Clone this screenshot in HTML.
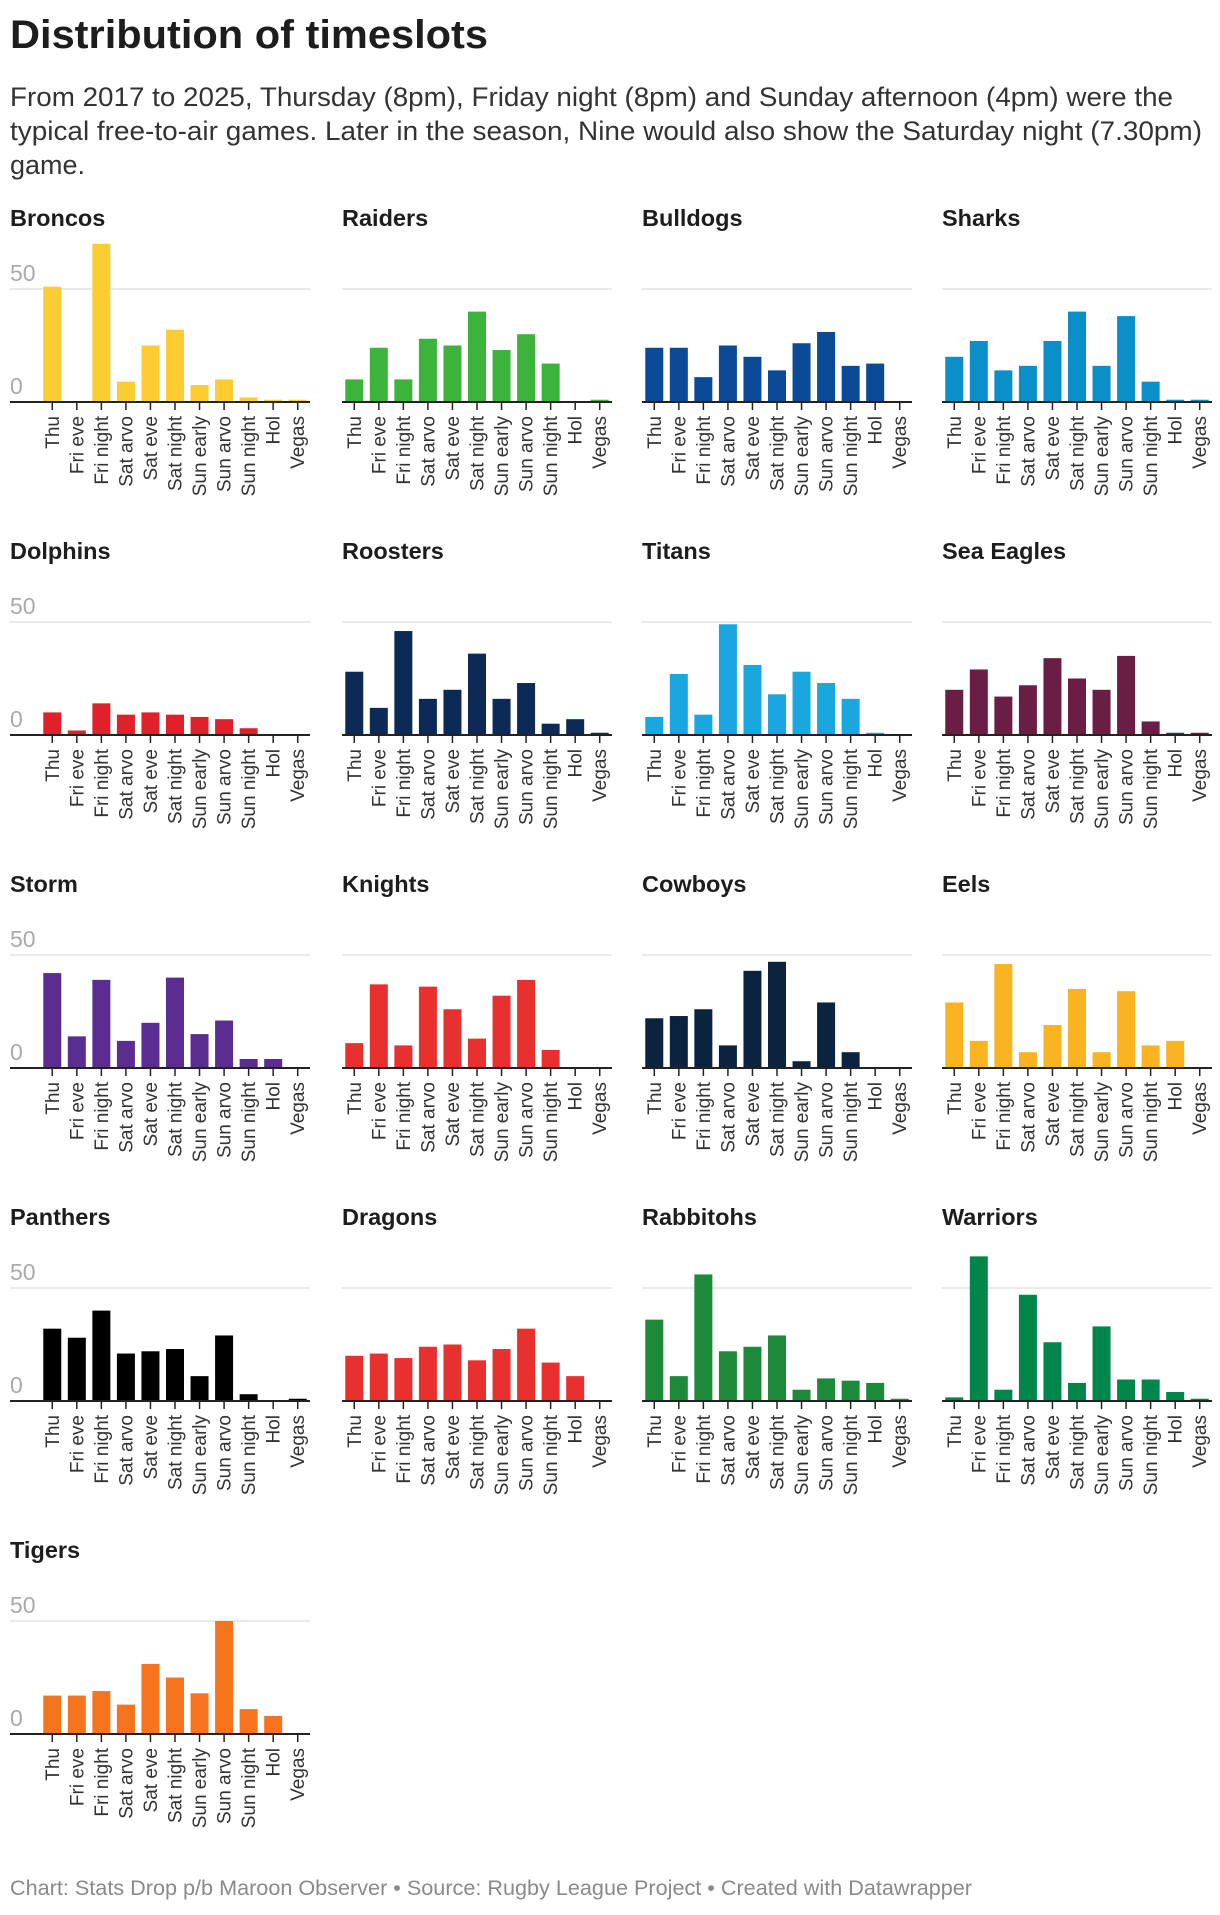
<!DOCTYPE html>
<html><head><meta charset="utf-8">
<style>
html,body{margin:0;padding:0;background:#fff;}
body{width:1220px;height:1910px;overflow:hidden;font-family:"Liberation Sans",Arial,sans-serif;}
text{font-family:"Liberation Sans",Arial,sans-serif;}
</style></head>
<body>
<svg id="chart" width="1220" height="1910" xmlns="http://www.w3.org/2000/svg">
<text x="10" y="48" font-size="40" font-weight="bold" fill="#1d1d1d" textLength="478" lengthAdjust="spacingAndGlyphs">Distribution of timeslots</text>
<text font-size="27" fill="#333">
<tspan x="10" y="106" textLength="1163" lengthAdjust="spacingAndGlyphs">From 2017 to 2025, Thursday (8pm), Friday night (8pm) and Sunday afternoon (4pm) were the</tspan>
<tspan x="10" y="140" textLength="1192" lengthAdjust="spacingAndGlyphs">typical free-to-air games. Later in the season, Nine would also show the Saturday night (7.30pm)</tspan>
<tspan x="10" y="174">game.</tspan>
</text>
<text x="10" y="1895" font-size="21" fill="#8a8a8a" textLength="962" lengthAdjust="spacingAndGlyphs">Chart: Stats Drop p/b Maroon Observer • Source: Rugby League Project • Created with Datawrapper</text>
<g id="panels"></g>
</svg>
<script>
const categories = ["Thu","Fri eve","Fri night","Sat arvo","Sat eve","Sat night","Sun early","Sun arvo","Sun night","Hol","Vegas"];
const teams = ["Broncos","Raiders","Bulldogs","Sharks","Dolphins","Roosters","Titans","Sea Eagles","Storm","Knights","Cowboys","Eels","Panthers","Dragons","Rabbitohs","Warriors","Tigers"];
const teamColors = ["#fdcb32","#3cb43c","#0a4a96","#0b8fc9","#e0202a","#0c2a55","#1aa7e0","#6b1e44","#5b2d90","#e8302e","#0c2340","#fbb421","#000000","#e8302e","#1d8a3a","#00854a","#f7741f"];
const broncos = [51,0,70,9,25,32,7.5,10,2,1,1];
const raiders = [10,24,10,28,25,40,23,30,17,0,1];
const bulldogs = [24,24,11,25,20,14,26,31,16,17,0];
const sharks = [20,27,14,16,27,40,16,38,9,1,1];
const dolphins = [10,2,14,9,10,9,8,7,3,0,0];
const roosters = [28,12,46,16,20,36,16,23,5,7,1];
const titans = [8,27,9,49,31,18,28,23,16,1,0];
const seaEagles = [20,29,17,22,34,25,20,35,6,1,1];
const storm = [42,14,39,12,20,40,15,21,4,4,0];
const knights = [11,37,10,36,26,13,32,39,8,0,0];
const cowboys = [22,23,26,10,43,47,3,29,7,0,0];
const eels = [29,12,46,7,19,35,7,34,10,12,0];
const panthers = [32,28,40,21,22,23,11,29,3,0,1];
const dragons = [20,21,19,24,25,18,23,32,17,11,0];
const rabbitohs = [36,11,56,22,24,29,5,10,9,8,1];
const warriors = [1.6,64,5,47,26,8,33,9.5,9.5,4,1];
const tigers = [17,17,19,13,31,25,18,50,11,8,0];
const series = [broncos,raiders,bulldogs,sharks,dolphins,roosters,titans,seaEagles,storm,knights,cowboys,eels,panthers,dragons,rabbitohs,warriors,tigers];
const yTicks = [0,50];

const NS = "http://www.w3.org/2000/svg";
const root = document.getElementById("panels");
const colLeft = [40,342,642,942];
const colStart = [10,342,642,942];
const plotW = 270;
const rowBase0 = 402, rowStep = 333, unit = 2.26;
const step = plotW / categories.length;
function mk(tag, attrs){const e=document.createElementNS(NS,tag);for(const k in attrs)e.setAttribute(k,attrs[k]);return e;}

teams.forEach((team, ti) => {
  const col = ti % 4, row = Math.floor(ti / 4);
  const base = rowBase0 + row * rowStep;
  const left = colLeft[col], start = colStart[col];
  const xScale = i => left + (i + 0.5) * step;
  const yScale = v => base - v * unit;
  const g = mk("g", {});
  
  
  root.appendChild(g);
  const t = mk("text", {x: start, y: base - 176, "font-size": 23.5, "font-weight": "bold", fill: "#1d1d1d"});
  t.textContent = team;
  
  
  g.appendChild(t);
  yTicks.forEach(v => {
    if (v > 0) {
      const gl = mk("line", {x1: start, x2: left + plotW, y1: yScale(v), y2: yScale(v), stroke: "#e3e3e3", "stroke-width": 1.5});
      
      
      g.appendChild(gl);
    }
    if (col === 0) {
      const yl = mk("text", {x: 10, y: yScale(v) - 8, "font-size": 23, fill: "#aaaaaa"});
      yl.textContent = String(v);
      
      
      g.appendChild(yl);
    }
  });
  series[ti].forEach((v, i) => {
    const b = mk("rect", {x: xScale(i) - 9, y: yScale(v), width: 18, height: Math.max(0, v * unit), fill: teamColors[ti]});
    
    
    g.appendChild(b);
  });
  const ax = mk("line", {x1: start, x2: left + plotW, y1: base, y2: base, stroke: "#222", "stroke-width": 2});
  
  
  g.appendChild(ax);
  categories.forEach((c, i) => {
    const tk = mk("line", {x1: xScale(i), x2: xScale(i), y1: base, y2: base + 8, stroke: "#222", "stroke-width": 1.5});
    
    
    g.appendChild(tk);
    const lb = mk("text", {x: 0, y: 0, "font-size": 19, fill: "#333", "text-anchor": "end",
      transform: "translate(" + (xScale(i) + 6.5) + "," + (base + 14) + ") rotate(-90)"});
    lb.textContent = c;
    
    
    g.appendChild(lb);
  });
});
</script>
</body></html>
